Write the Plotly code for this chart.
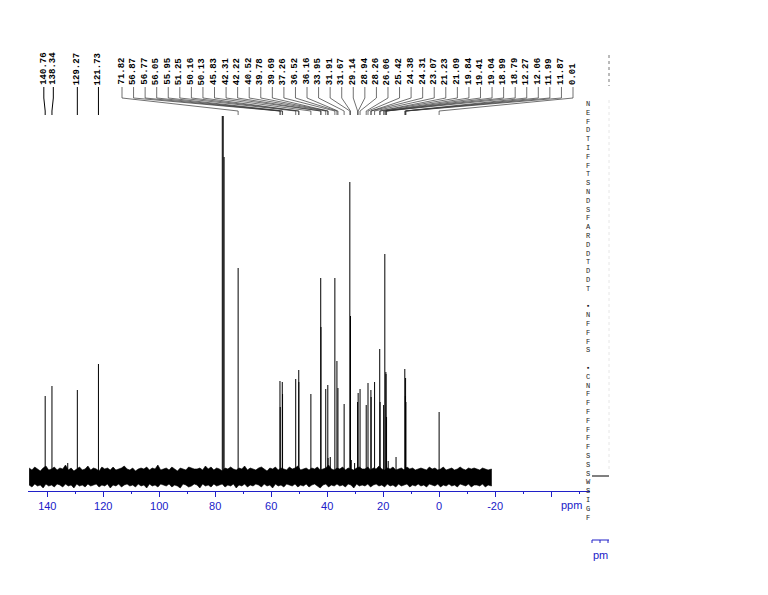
import plotly.graph_objects as go

# ---------------- data ----------------
# labelled peaks (ppm) and their heights (arbitrary units above baseline)
peak_ppm = [140.76, 138.34, 129.27, 121.73, 71.82, 56.87, 56.77, 56.05, 55.95,
            51.25, 50.16, 50.13, 45.83, 42.31, 42.22, 40.52, 39.78, 39.69,
            37.26, 36.52, 36.16, 33.95, 31.91, 31.67, 29.14, 28.94, 28.26,
            26.06, 25.42, 24.38, 24.31, 23.07, 21.23, 21.09, 19.84, 19.41,
            19.04, 18.99, 18.79, 12.27, 12.06, 11.99, 11.87, 0.01]
peak_height = [81, 91, 87, 113, 209, 96, 70, 95, 83,
               98, 107, 95, 83, 199, 150, 88, 92, 19,
               199, 116, 89, 73, 295, 161, 75, 84, 88,
               72, 94, 87, 80, 95, 128, 75, 72, 223,
               105, 103, 60, 108, 81, 99, 75, 65]

# unlabelled lines: CDCl3 triplet and a few small signals
extra_ppm = [77.48, 77.16, 76.84, 132.7, 38.9, 31.4, 30.2, 18.2, 15.4]
extra_height = [370, 370, 320, 14, 20, 17, 14, 16, 20]

# baseline noise envelope (upper / lower edge of the noise band)
noise_ppm = [146.5, 145.5, 144.5, 143.5, 142.5, 141.5, 140.5, 139.5, 138.5, 137.5,
             136.5, 135.5, 134.5, 133.5, 132.5, 131.5, 130.5, 129.5, 128.5, 127.5,
             126.5, 125.5, 124.5, 123.5, 122.5, 121.5, 120.5, 119.5, 118.5, 117.5,
             116.5, 115.5, 114.5, 113.5, 112.5, 111.5, 110.5, 109.5, 108.5, 107.5,
             106.5, 105.5, 104.5, 103.5, 102.5, 101.5, 100.5, 99.5, 98.5, 97.5,
             96.5, 95.5, 94.5, 93.5, 92.5, 91.5, 90.5, 89.5, 88.5, 87.5,
             86.5, 85.5, 84.5, 83.5, 82.5, 81.5, 80.5, 79.5, 78.5, 77.5,
             76.5, 75.5, 74.5, 73.5, 72.5, 71.5, 70.5, 69.5, 68.5, 67.5,
             66.5, 65.5, 64.5, 63.5, 62.5, 61.5, 60.5, 59.5, 58.5, 57.5,
             56.5, 55.5, 54.5, 53.5, 52.5, 51.5, 50.5, 49.5, 48.5, 47.5,
             46.5, 45.5, 44.5, 43.5, 42.5, 41.5, 40.5, 39.5, 38.5, 37.5,
             36.5, 35.5, 34.5, 33.5, 32.5, 31.5, 30.5, 29.5, 28.5, 27.5,
             26.5, 25.5, 24.5, 23.5, 22.5, 21.5, 20.5, 19.5, 18.5, 17.5,
             16.5, 15.5, 14.5, 13.5, 12.5, 11.5, 10.5, 9.5, 8.5, 7.5,
             6.5, 5.5, 4.5, 3.5, 2.5, 1.5, 0.5, -0.5, -1.5, -2.5,
             -3.5, -4.5, -5.5, -6.5, -7.5, -8.5, -9.5, -10.5, -11.5, -12.5,
             -13.5, -14.5, -15.5, -16.5, -17.5, -18.7]
noise_hi = [9, 7, 10, 8, 6, 9, 11, 7, 8, 10,
            7, 9, 8, 12, 7, 9, 6, 8, 10, 7,
            8, 11, 7, 9, 8, 6, 10, 8, 9, 7,
            10, 7, 8, 9, 11, 8, 7, 9, 6, 8,
            9, 8, 10, 7, 9, 8, 12, 7, 8, 9,
            7, 10, 8, 6, 9, 8, 7, 10, 9, 8,
            8, 9, 7, 11, 8, 10, 7, 9, 8, 6,
            9, 8, 10, 8, 7, 9, 8, 11, 7, 9,
            8, 7, 9, 10, 8, 6, 9, 8, 10, 7,
            9, 8, 7, 10, 8, 9, 11, 7, 8, 9,
            7, 9, 8, 10, 7, 8, 9, 12, 8, 7,
            9, 8, 10, 7, 9, 8, 7, 9, 10, 8,
            8, 10, 7, 9, 8, 11, 8, 7, 9, 8,
            10, 7, 8, 9, 7, 10, 8, 9, 7, 8,
            9, 8, 7, 10, 8, 9, 7, 8, 10, 7,
            8, 9, 7, 8, 10, 8, 7, 9, 8, 9,
            8, 7, 9, 8, 7, 8]
noise_lo = [-8, -10, -7, -9, -8, -11, -7, -9, -8, -10,
            -7, -8, -10, -7, -9, -8, -11, -7, -9, -8,
            -10, -7, -9, -8, -7, -10, -8, -9, -7, -11,
            -8, -9, -7, -10, -8, -7, -9, -8, -10, -7,
            -9, -8, -11, -7, -9, -8, -10, -7, -8, -9,
            -7, -10, -8, -9, -11, -7, -8, -10, -9, -7,
            -8, -11, -7, -9, -8, -10, -7, -9, -8, -7,
            -10, -8, -9, -7, -11, -8, -9, -7, -10, -8,
            -9, -7, -8, -10, -7, -9, -8, -11, -7, -9,
            -8, -10, -7, -8, -9, -7, -10, -8, -9, -7,
            -10, -8, -7, -9, -11, -8, -7, -10, -8, -9,
            -7, -9, -8, -10, -7, -8, -11, -7, -9, -8,
            -9, -7, -10, -8, -7, -9, -8, -10, -7, -9,
            -8, -10, -7, -9, -8, -7, -10, -8, -9, -7,
            -9, -8, -10, -7, -8, -9, -7, -10, -8, -9,
            -7, -9, -8, -10, -7, -8, -9, -7, -10, -8,
            -8, -9, -7, -10, -8, -9]

tick_vals = [140, 120, 100, 80, 60, 40, 20, 0, -20, -40]
tick_text = ["140", "120", "100", "80", "60", "40", "20", "0", "-20", ""]
minor_vals = [130, 110, 90, 70, 50, 30, 10, -10, -30, -50]

param_letters = list("NEFDTIFFTSNDSFARDDTDDT") + [""] + list("▪NFFFS") + [""] + list("▪CNFFFFFFFSSSWSIGF")

# ---------------- layout constants ----------------
W, H = 768, 595
L, R, T, B = 28, 178, 116, 104
PW, PH = W - L - R, H - T - B
X0, X1 = 146.9, -53.9          # ppm at left / right edge of plot area
Y0, Y1 = -14, 361
BLUE = "#2020c8"
AXFONT = "Liberation Sans Narrow, Arial Narrow, Liberation Sans, Arial"

def px_to_ppm(px):
    return X0 - (px - L) * (X0 - X1) / PW

def ppm_to_px(p):
    return L + (X0 - p) * PW / (X0 - X1)

def py(pix):          # pixel row -> paper y
    return (H - B - pix) / PH

def pxp(pix):         # pixel column -> paper x
    return (pix - L) / PW

n_noise = min(len(noise_ppm), len(noise_hi), len(noise_lo))
nx = noise_ppm[:n_noise]
fig = go.Figure()

# noise band
fig.add_trace(go.Scatter(
    x=nx + nx[::-1], y=noise_hi[:n_noise] + noise_lo[:n_noise][::-1],
    fill="toself", fillcolor="black", mode="lines",
    line=dict(color="black", width=0.6), hoverinfo="skip", showlegend=False))

# peak lines
xs, ys = [], []
for p, h in zip(peak_ppm + extra_ppm, peak_height + extra_height):
    xs += [p, p, None]
    ys += [0, h, None]
fig.add_trace(go.Scatter(x=xs, y=ys, mode="lines",
                         line=dict(color="black", width=1),
                         hoverinfo="skip", showlegend=False))

# ---------------- peak labels with leader lines ----------------
shapes = []
annotations = []
n_sep = 4
crowd_start_px, crowd_end_px = 122, 573
n_crowd = len(peak_ppm) - n_sep
min_gap_px = 9.5
lab_font = dict(family="Liberation Mono, Courier New, monospace", size=9,
                color="black", weight="bold")

# separate labels: at peak position, pushed apart where they would collide
sep_px = [ppm_to_px(p) for p in peak_ppm[:n_sep]]
for j in range(1, n_sep):
    if sep_px[j] - sep_px[j - 1] < min_gap_px:
        mid = (sep_px[j] + sep_px[j - 1]) / 2
        sep_px[j - 1] = mid - min_gap_px / 2
        sep_px[j] = mid + min_gap_px / 2

for i, p in enumerate(peak_ppm):
    if i < n_sep:
        lx = px_to_ppm(sep_px[i])
        color, width = "black", 1
    else:
        k = i - n_sep
        lpx = crowd_start_px + k * (crowd_end_px - crowd_start_px) / (n_crowd - 1)
        lx = px_to_ppm(lpx)
        color, width = "#333333", 0.7
    path = "M {a},{y0} L {a},{y1} L {b},{y2} L {b},{y3}".format(
        a=lx, b=p, y0=py(87), y1=py(98), y2=py(111), y3=py(115))
    shapes.append(dict(type="path", xref="x", yref="paper", path=path,
                       line=dict(color=color, width=width)))
    annotations.append(dict(x=lx, y=py(86), xref="x", yref="paper",
                            text="%.2f" % p, textangle=-90, showarrow=False,
                            xanchor="center", yanchor="bottom", font=lab_font,
                            borderpad=0))

# ppm axis title
annotations.append(dict(x=pxp(571), y=py(505), xref="paper", yref="paper", text="ppm",
                        showarrow=False, xanchor="center", yanchor="middle",
                        font=dict(family=AXFONT, size=11, color=BLUE)))

# parameter letters column at right
for k, ch in enumerate(param_letters):
    if ch:
        annotations.append(dict(x=pxp(588), y=py(104 + 8.8 * k), xref="paper", yref="paper",
                                text=ch, showarrow=False, xanchor="center", yanchor="middle",
                                font=dict(family="Liberation Mono, DejaVu Sans Mono, monospace",
                                          size=7, color="#222222")))

# small marks at the far right
shapes.append(dict(type="line", xref="paper", yref="paper", x0=pxp(592), x1=pxp(609),
                   y0=py(476), y1=py(476), line=dict(color="black", width=1)))
shapes.append(dict(type="line", xref="paper", yref="paper", x0=pxp(609), x1=pxp(609),
                   y0=py(55), y1=py(86), line=dict(color="#777777", width=1, dash="dot")))
shapes.append(dict(type="line", xref="paper", yref="paper", x0=pxp(609), x1=pxp(609),
                   y0=py(100), y1=py(470), line=dict(color="#e6e6e6", width=1, dash="dot")))
# second (tiny) ppm scale at bottom right
shapes.append(dict(type="line", xref="paper", yref="paper", x0=pxp(592), x1=pxp(609),
                   y0=py(540), y1=py(540), line=dict(color=BLUE, width=1)))
for tx in (592, 600, 608):
    shapes.append(dict(type="line", xref="paper", yref="paper", x0=pxp(tx), x1=pxp(tx),
                       y0=py(540), y1=py(543), line=dict(color=BLUE, width=1)))
annotations.append(dict(x=pxp(600), y=py(555), xref="paper", yref="paper", text="pm",
                        showarrow=False, xanchor="center", yanchor="middle",
                        font=dict(family=AXFONT, size=11, color=BLUE)))

fig.update_layout(
    width=W, height=H,
    margin=dict(l=L, r=R, t=T, b=B, pad=0),
    paper_bgcolor="white", plot_bgcolor="white",
    showlegend=False, hovermode=False,
    shapes=shapes, annotations=annotations,
    xaxis=dict(range=[X0, X1], autorange=False, showgrid=False, zeroline=False,
               showline=True, linecolor=BLUE, linewidth=1,
               ticks="outside", ticklen=5, tickcolor=BLUE, tickwidth=1,
               tickmode="array", tickvals=tick_vals, ticktext=tick_text,
               tickfont=dict(family=AXFONT, size=11, color=BLUE),
               minor=dict(tickmode="array", tickvals=minor_vals, ticks="outside",
                          ticklen=2, tickcolor=BLUE, showgrid=False)),
    yaxis=dict(range=[Y0, Y1], autorange=False, visible=False, showgrid=False,
               zeroline=False),
)

fig.write_html("out.html", config={"displayModeBar": False},
               post_script="document.body.style.margin='0';document.body.style.padding='0';")
